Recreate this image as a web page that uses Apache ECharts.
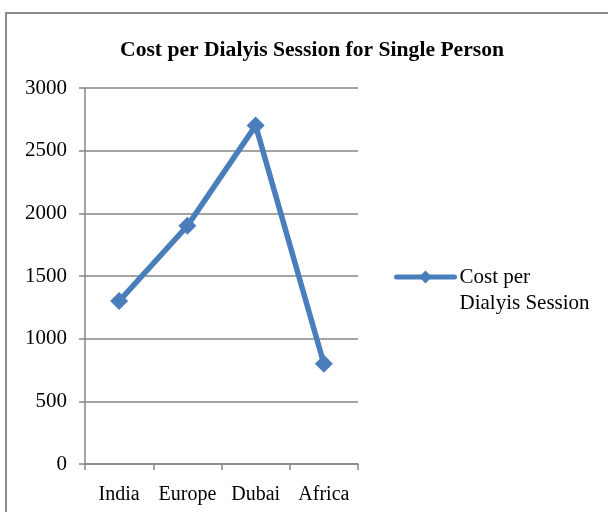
<!DOCTYPE html>
<html>
<head>
<meta charset="utf-8">
<script src="https://cdn.jsdelivr.net/npm/echarts@6/dist/echarts.min.js"></script>
<style>
  html, body { margin: 0; padding: 0; background: #fff; }
  #chart { width: 608px; height: 512px; }
</style>
</head>
<body>
<div id="chart"></div>
<script>
// Cost per dialysis session by region
const regions = ['India', 'Europe', 'Dubai', 'Africa'];
const costs = [1300, 1900, 2700, 800];
const seriesName = 'Cost per\nDialyis Session';
const titleText = 'Cost per Dialyis Session for Single Person';

const serif = '"Liberation Serif", "Times New Roman", serif';
const blue = '#4A7EBB';
const axisGray = '#868686';

const chart = echarts.init(document.getElementById('chart'), null, { renderer: 'canvas' });

chart.setOption({
  backgroundColor: '#fff',
  animation: false,
  title: {
    text: titleText,
    left: 307,
    top: 34,
    textAlign: 'center',
    textStyle: { fontFamily: serif, fontSize: 21.6, fontWeight: 'bold', color: '#000' }
  },
  graphic: [{
    type: 'polyline',
    shape: { points: [[6, 520], [6, 13], [620, 13]] },
    style: { stroke: '#8a8a8a', lineWidth: 2, fill: null }
  }],
  legend: {
    left: 394,
    top: 238,
    padding: 0,
    itemWidth: 58,
    itemHeight: 16,
    // leading blank line keeps the first text line level with the key
    formatter: name => '\n' + name,
    lineStyle: { width: 5, cap: 'round' },
    textStyle: { fontFamily: serif, fontSize: 21, color: '#000', lineHeight: 26 },
    data: [{ name: seriesName }]
  },
  grid: { left: 85, right: 250, top: 88, bottom: 48 },
  xAxis: {
    type: 'category',
    data: regions,
    boundaryGap: true,
    axisLine: { lineStyle: { color: axisGray, width: 1.5 } },
    axisTick: { show: true, interval: 0, length: 6, inside: false, lineStyle: { color: axisGray, width: 1.5 } },
    axisLabel: { interval: 0, fontFamily: serif, fontSize: 20, color: '#000', margin: 21 }
  },
  yAxis: {
    type: 'value',
    min: 0,
    max: 3000,
    interval: 500,
    axisLine: { show: true, lineStyle: { color: axisGray, width: 1.5 } },
    axisTick: { show: true, length: 6, lineStyle: { color: axisGray, width: 1.5 } },
    splitLine: { lineStyle: { color: axisGray, width: 1.5 } },
    axisLabel: { fontFamily: serif, fontSize: 21, color: '#000', margin: 18, formatter: v => String(v) }
  },
  series: [{
    name: seriesName,
    type: 'line',
    data: costs,
    symbol: 'diamond',
    symbolSize: 18,
    lineStyle: { color: blue, width: 5.5, cap: 'round' },
    itemStyle: { color: blue }
  }]
});
</script>
</body>
</html>
